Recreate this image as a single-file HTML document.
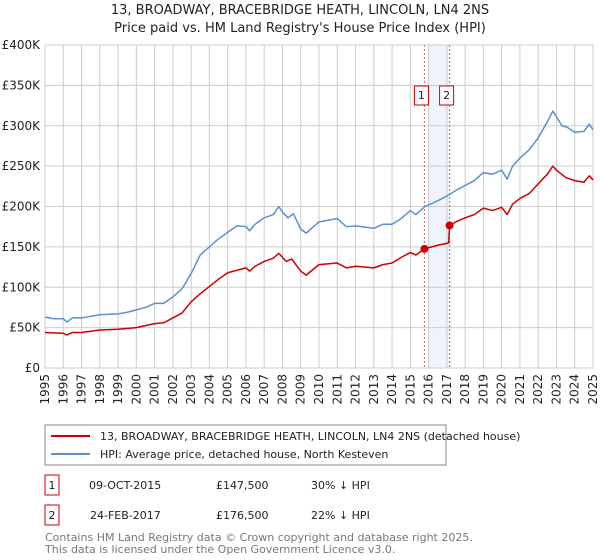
<!DOCTYPE html>
<html><head><meta charset="utf-8"><style>
body{margin:0;background:#fff;font-family:"Liberation Sans","DejaVu Sans",sans-serif;}
#wrap{position:relative;width:600px;height:560px;overflow:hidden;}
text{font-family:"DejaVu Sans","Liberation Sans",sans-serif;}
</style></head><body>
<div id="wrap">
<svg id="chart" width="600" height="560">
<text x="300" y="14" text-anchor="middle" font-size="13" fill="#222">13, BROADWAY, BRACEBRIDGE HEATH, LINCOLN, LN4 2NS</text>
<text x="300" y="32" text-anchor="middle" font-size="13" fill="#222">Price paid vs. HM Land Registry's House Price Index (HPI)</text>
<g id="grid"></g><g id="marks"></g>
<rect x="45" y="425" width="401" height="40" fill="#fff" stroke="#888"/>
<line x1="51" y1="436" x2="90" y2="436" stroke="#cc0000" stroke-width="2"/>
<text x="100" y="440" font-size="11" fill="#222">13, BROADWAY, BRACEBRIDGE HEATH, LINCOLN, LN4 2NS (detached house)</text>
<line x1="51" y1="454" x2="90" y2="454" stroke="#5b8fd0" stroke-width="2"/>
<text x="100" y="458" font-size="11" fill="#222">HPI: Average price, detached house, North Kesteven</text>
<g font-size="11" fill="#222">
<rect x="45" y="475" width="14" height="20" fill="none" stroke="#cc0000"/>
<text x="52" y="489" text-anchor="middle">1</text>
<text x="89" y="489">09-OCT-2015</text>
<text x="216" y="489">£147,500</text>
<text x="311" y="489">30% ↓ HPI</text>
<rect x="45" y="505" width="14" height="20" fill="none" stroke="#cc0000"/>
<text x="52" y="519" text-anchor="middle">2</text>
<text x="90" y="519">24-FEB-2017</text>
<text x="216" y="519">£176,500</text>
<text x="311" y="519">22% ↓ HPI</text>
</g>
<text x="45" y="541" font-size="11" fill="#777">Contains HM Land Registry data © Crown copyright and database right 2025.</text>
<text x="45" y="553" font-size="11" fill="#777">This data is licensed under the Open Government Licence v3.0.</text>
</svg>
</div>
<script>
const yTicks=[0,50,100,150,200,250,300,350,400];
const yTickLabels=["£0","£50K","£100K","£150K","£200K","£250K","£300K","£350K","£400K"];
const xYears=[1995,1996,1997,1998,1999,2000,2001,2002,2003,2004,2005,2006,2007,2008,2009,2010,2011,2012,2013,2014,2015,2016,2017,2018,2019,2020,2021,2022,2023,2024,2025];
const hpiT=[1995,1995.5,1996,1996.2,1996.5,1997,1997.5,1998,1999,1999.5,2000,2000.5,2001,2001.5,2002,2002.5,2003,2003.5,2004,2004.5,2005,2005.5,2006,2006.2,2006.5,2007,2007.5,2007.8,2008,2008.3,2008.6,2009,2009.3,2010,2011,2011.5,2012,2013,2013.5,2014,2014.5,2015,2015.3,2015.8,2016.5,2017,2017.5,2018,2018.5,2019,2019.5,2020,2020.3,2020.6,2021,2021.5,2022,2022.5,2022.8,2023,2023.3,2023.6,2024,2024.5,2024.8,2025];
const hpiV=[63,61,61,57,62,62,64,66,67,69,72,75,80,80,88,98,117,140,150,160,168,176,175,170,178,186,190,200,193,186,191,172,167,181,185,175,176,173,178,178,185,195,190,200,207,213,220,226,232,242,240,245,234,250,260,270,285,305,318,311,300,298,292,293,302,295];
const ppT=[1995,1996,1996.2,1996.5,1997,1998,1999,2000,2001,2001.5,2002,2002.5,2003,2003.5,2004,2004.5,2005,2005.5,2006,2006.2,2006.5,2007,2007.5,2007.8,2008.2,2008.5,2009,2009.3,2010,2011,2011.5,2012,2013,2013.5,2014,2014.5,2015,2015.3,2015.77,2016.5,2017.1,2017.15,2017.5,2018,2018.5,2019,2019.5,2020,2020.3,2020.6,2021,2021.5,2022,2022.5,2022.8,2023,2023.5,2024,2024.5,2024.8,2025];
const ppV=[44,43,41,44,44,47,48,50,55,56,62,68,82,92,101,110,118,121,124,120,126,132,136,142,132,135,120,115,128,130,124,126,124,128,130,137,143,140,147.5,152,155,176.5,181,186,190,198,195,199,190,203,210,216,228,240,250,245,236,232,230,238,233];
const saleT=[2015.77,2017.15];
const saleV=[147.5,176.5];
const saleLabels=["1","2"];
const NS="http://www.w3.org/2000/svg";
const X0=45,X1=593,Y0=368,Y1=45;
function xs(t){return X0+(t-1995)/30*(X1-X0);}
function ys(v){return Y0-v/400*(Y0-Y1);}
function mk(tag,attrs,parent){const e=document.createElementNS(NS,tag);for(const k in attrs)e.setAttribute(k,attrs[k]);parent.appendChild(e);return e;}
const grid=document.getElementById('grid'),marks=document.getElementById('marks');
const band=mk('rect',{x:xs(saleT[0])+4,y:Y1,width:xs(saleT[1])-xs(saleT[0])-4,height:Y0-Y1,fill:'#eef3fc'},grid);


yTicks.forEach((v,i)=>{
 const l=mk('line',{x1:X0,x2:X1,y1:ys(v),y2:ys(v),stroke:'#ccc'},grid);
 
 
 const t=mk('text',{x:40,y:ys(v)+4,'text-anchor':'end','font-size':12,fill:'#222'},grid);
 t.textContent=yTickLabels[i];
 
 
});
xYears.forEach(y=>{
 const l=mk('line',{x1:xs(y),x2:xs(y),y1:Y1,y2:Y0,stroke:'#ccc'},grid);
 
 
 const t=mk('text',{x:0,y:0,'text-anchor':'end','font-size':12,fill:'#222',transform:`translate(${xs(y)+4},${Y0+6}) rotate(-90)`},grid);
 t.textContent=y;
 
 
});
const border=mk('rect',{x:X0,y:Y1,width:X1-X0,height:Y0-Y1,fill:'none',stroke:'#ccc'},grid);


saleT.forEach((t,i)=>{
 const l=mk('line',{x1:xs(t),x2:xs(t),y1:Y1,y2:Y0,stroke:'#e06060','stroke-dasharray':'2,2'},marks);
 
 
 const r=mk('rect',{x:xs(t)-10,y:86,width:14,height:19,fill:'#fff',stroke:'#cc0000'},marks);
 
 
 const tx=mk('text',{x:xs(t)-3,y:99,'text-anchor':'middle','font-size':11,fill:'#222'},marks);
 tx.textContent=saleLabels[i];
 
 
});
function line(T,V,color,name){
 const p=mk('polyline',{points:T.map((t,i)=>xs(t)+','+ys(V[i])).join(' '),fill:'none',stroke:color,'stroke-width':1.5,'stroke-linejoin':'round'},marks);
 
 
}
line(hpiT,hpiV,'#5b8fd0','hpi-line');
line(ppT,ppV,'#cc0000','property-price-line');
saleT.forEach((t,i)=>{
 const c=mk('circle',{cx:xs(t),cy:ys(saleV[i]),r:4,fill:'#cc0000'},marks);
 
 
});
</script>
</body></html>
